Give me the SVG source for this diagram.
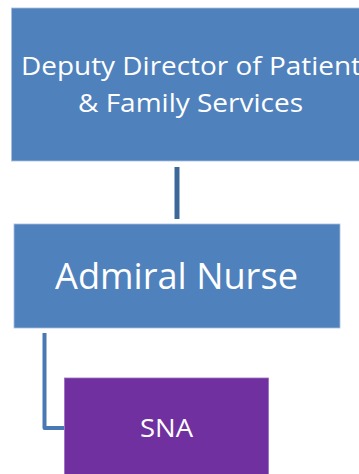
<svg xmlns="http://www.w3.org/2000/svg" width="359" height="474" viewBox="0 0 359 474">
<style>
.blue{fill:#4F81BD;stroke:#A7BFDE;stroke-width:0.8}
.purple{fill:#7030A0;stroke:#9A6CC0;stroke-width:0.8}
.t{fill:#FFFFFF;font-family:"Open Sans","Liberation Sans",sans-serif;text-anchor:middle}
.c{fill:none;stroke-linejoin:round;stroke-linecap:butt}
</style>
<rect width="359" height="474" fill="#FFFFFF"/>
<g id="connectors">
<line class="c" x1="177" y1="167" x2="177" y2="219" stroke="#3D6699" stroke-width="5"/>
<path class="c" d="M44.5,333 V428 H64" stroke="#4A78B2" stroke-width="4"/>
</g>
<g id="node-deputy">
<rect class="blue" x="11.5" y="8" width="362" height="153"/>
<text class="t" x="191" y="75" font-size="26" textLength="340" lengthAdjust="spacingAndGlyphs">Deputy Director of Patient</text>
<text class="t" x="190.5" y="112" font-size="26" textLength="225" lengthAdjust="spacingAndGlyphs">&amp; Family Services</text>
</g>
<g id="node-admiral">
<rect class="blue" x="14" y="224" width="326" height="104"/>
<text class="t" x="176.5" y="289" font-size="36" textLength="243" lengthAdjust="spacingAndGlyphs">Admiral Nurse</text>
</g>
<g id="node-sna">
<rect class="purple" x="64.5" y="378" width="204" height="100"/>
<text class="t" x="166.5" y="437" font-size="26" textLength="53" lengthAdjust="spacingAndGlyphs">SNA</text>
</g>
</svg>
